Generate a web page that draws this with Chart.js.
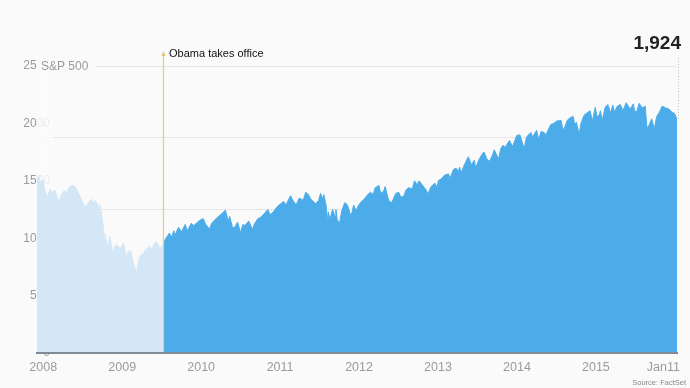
<!DOCTYPE html>
<html>
<head>
<meta charset="utf-8">
<script src="https://cdn.jsdelivr.net/npm/chart.js@4.4.1/dist/chart.umd.min.js"></script>
<style>
html,body{margin:0;padding:0;background:#fafafa;}
#wrap{width:690px;height:388px;position:relative;}
</style>
</head>
<body>
<div id="wrap"><canvas id="c" width="690" height="388"></canvas></div>
<script>
// ---- data (S&P 500 level) ----
const dates = [
"2007-12-03","2007-12-11","2007-12-20","2007-12-31","2008-01-08","2008-01-22","2008-02-01","2008-02-12","2008-02-25","2008-03-10",
"2008-03-17","2008-03-26","2008-04-07","2008-04-17","2008-05-02","2008-05-19","2008-05-30","2008-06-10","2008-06-20","2008-07-02",
"2008-07-15","2008-07-24","2008-08-11","2008-08-20","2008-08-28","2008-09-08","2008-09-15","2008-09-19","2008-09-29","2008-10-06",
"2008-10-10","2008-10-13","2008-10-27","2008-11-04","2008-11-20","2008-11-28","2008-12-08","2008-12-19","2008-12-31","2009-01-06",
"2009-01-20","2009-01-28","2009-02-09","2009-02-23","2009-03-09","2009-03-17","2009-03-26","2009-04-06","2009-04-17","2009-05-08",
"2009-05-14","2009-06-02","2009-06-12","2009-06-23","2009-07-08",
"2009-07-17","2009-07-28","2009-08-07","2009-08-17","2009-08-28","2009-09-02","2009-09-18","2009-10-02","2009-10-19","2009-10-30",
"2009-11-16","2009-11-27","2009-12-10","2009-12-28","2010-01-11","2010-01-22","2010-02-08","2010-02-19","2010-03-05","2010-03-22",
"2010-04-05","2010-04-23","2010-05-06","2010-05-13","2010-05-25","2010-06-04","2010-06-18","2010-07-02","2010-07-13","2010-07-22",
"2010-08-09","2010-08-26","2010-09-03","2010-09-20","2010-10-01","2010-10-18","2010-11-05","2010-11-16","2010-12-01","2010-12-16",
"2011-01-03","2011-01-18","2011-01-28","2011-02-18","2011-03-01","2011-03-16","2011-03-31","2011-04-18","2011-04-29","2011-05-10",
"2011-05-23","2011-06-15","2011-06-28","2011-07-07","2011-07-18","2011-07-22","2011-08-02","2011-08-08","2011-08-12","2011-08-19",
"2011-08-31","2011-09-12","2011-09-16","2011-09-22","2011-10-03","2011-10-13","2011-10-27","2011-11-08","2011-11-25","2011-12-07",
"2011-12-19","2011-12-30","2012-01-13","2012-01-27","2012-02-10","2012-02-24","2012-03-06","2012-03-16","2012-04-02","2012-04-10",
"2012-04-24","2012-05-01","2012-05-18","2012-06-01","2012-06-19","2012-07-03","2012-07-12","2012-07-25","2012-08-06","2012-08-17",
"2012-09-04","2012-09-14","2012-09-26","2012-10-05","2012-10-22","2012-11-07","2012-11-15","2012-11-30","2012-12-18","2012-12-28",
"2013-01-02","2013-01-18","2013-02-01","2013-02-19","2013-02-25","2013-03-14","2013-03-26","2013-04-05","2013-04-11","2013-04-18",
"2013-05-03","2013-05-21","2013-06-05","2013-06-18","2013-06-24","2013-07-08","2013-07-23","2013-08-02","2013-08-15","2013-08-27",
"2013-09-09","2013-09-18","2013-10-08","2013-10-18","2013-10-29","2013-11-07","2013-11-27","2013-12-12","2013-12-31","2014-01-15",
"2014-02-03","2014-02-14","2014-02-28","2014-03-07","2014-03-14","2014-04-02","2014-04-11","2014-04-23","2014-05-07","2014-05-15",
"2014-06-06","2014-06-20","2014-07-03","2014-07-24","2014-07-31","2014-08-07","2014-08-21","2014-09-03","2014-09-18","2014-09-25",
"2014-10-03","2014-10-15","2014-10-24","2014-11-07","2014-11-20","2014-12-05","2014-12-16","2014-12-29","2015-01-06","2015-01-16",
"2015-01-22","2015-01-30","2015-02-13","2015-02-25","2015-03-10","2015-03-20","2015-03-27","2015-04-10","2015-04-24","2015-05-06",
"2015-05-21","2015-06-08","2015-06-23","2015-06-29","2015-07-08","2015-07-20","2015-08-03","2015-08-17","2015-08-25","2015-09-04",
"2015-09-16","2015-09-28","2015-10-09","2015-10-22","2015-11-03","2015-11-20","2015-12-04","2015-12-18","2015-12-31","2016-01-06",
"2016-01-11"
];
const values = [
1520,1545,1490,1505,1420,1360,1430,1400,1415,1330,
1335,1385,1415,1395,1450,1460,1440,1400,1365,1310,
1270,1300,1340,1310,1330,1300,1240,1290,1190,1090,
940,1040,900,1020,860,930,940,915,925,960,
840,880,890,770,700,800,850,855,895,930,
900,965,960,915,925,
985,1015,1045,1010,1065,1025,1095,1055,1120,1065,
1130,1110,1130,1160,1170,1120,1080,1130,1160,1190,
1210,1245,1150,1190,1100,1090,1140,1050,1120,1110,
1150,1075,1120,1170,1180,1210,1250,1205,1230,1270,
1300,1320,1290,1370,1330,1290,1350,1330,1400,1385,
1340,1300,1330,1390,1340,1380,1280,1150,1230,1160,
1250,1190,1250,1160,1130,1240,1310,1290,1190,1290,
1240,1290,1320,1345,1380,1400,1380,1440,1460,1390,
1410,1450,1325,1310,1390,1400,1360,1360,1420,1440,
1430,1500,1465,1500,1460,1420,1385,1450,1480,1440,
1500,1520,1550,1560,1520,1600,1610,1580,1620,1570,
1640,1710,1640,1680,1610,1680,1730,1750,1690,1670,
1720,1770,1690,1780,1810,1790,1850,1800,1895,1900,
1780,1880,1910,1920,1880,1940,1860,1930,1920,1900,
1990,2000,2020,2025,1955,1950,2025,2050,2060,1990,
2010,1905,2000,2070,2090,2110,2020,2140,2060,2070,
2110,2025,2140,2165,2090,2160,2100,2150,2165,2110,
2180,2125,2170,2110,2100,2175,2135,2150,1960,1985,
2040,1950,2060,2100,2150,2135,2125,2100,2085,2060,
2035
];
const splitDate = "2009-07-08";
const xTickYears = [2008, 2009, 2010, 2011, 2012, 2013, 2014, 2015];
const lastTickLabel = "Jan11";
const yLabelTicks = [0, 500, 1000, 1500, 2000, 2500];
const yGridTicks = [625, 1250, 1875, 2500];
const seriesName = "S&P 500";
const eventLabel = "Obama takes office";
const lastValueLabel = "1,924";
const sourceLabel = "Source: FactSet";

// ---- helpers ----
function toYear(s) {
  const [y, m, d] = s.split('-').map(Number);
  const a = Date.UTC(y, 0, 1), b = Date.UTC(y + 1, 0, 1);
  return y + (Date.UTC(y, m - 1, d) - a) / (b - a);
}
const splitIdx = dates.indexOf(splitDate);
const points = dates.map((d, i) => ({ x: toYear(d), y: values[i] }));
const before = points.slice(0, splitIdx + 1);
const after = points.slice(splitIdx);

const FONT = "'Liberation Sans', Arial, Helvetica, sans-serif";
Chart.defaults.font.family = FONT;

const overlay = {
  id: 'overlay',
  beforeDatasetsDraw(chart) {
    const { ctx, chartArea: a, scales: { y } } = chart;
    ctx.save();
    ctx.fillStyle = 'rgba(250,250,250,0.85)';
    const t = y.getPixelForValue(2500) - 9;
    const b = y.getPixelForValue(500) + 9;
    ctx.fillRect(a.left, t, 16, b - t);
    ctx.restore();
  },
  afterDatasetsDraw(chart) {
    const { ctx, chartArea: a, scales: { x, y } } = chart;
    ctx.save();
    // series name next to the top tick
    const yt = y.getPixelForValue(2500);
    ctx.fillStyle = '#fafafa';
    ctx.fillRect(a.left, yt - 8, 58, 16);
    ctx.fillStyle = '#9a9a9a';
    ctx.font = '12px ' + FONT;
    ctx.textAlign = 'left';
    ctx.textBaseline = 'middle';
    ctx.fillText(seriesName, a.left + 4, yt + 1);

    // event line
    const xs = Math.round(x.getPixelForValue(toYear(splitDate))) + 0.5;
    ctx.strokeStyle = '#f3c878';
    ctx.lineWidth = 1.2;
    ctx.beginPath();
    ctx.moveTo(xs, 54);
    ctx.lineTo(xs, a.bottom);
    ctx.stroke();
    ctx.fillStyle = '#efbf68';
    ctx.beginPath();
    ctx.moveTo(xs - 2, 56);
    ctx.lineTo(xs + 2, 56);
    ctx.lineTo(xs, 51);
    ctx.closePath();
    ctx.fill();
    ctx.fillStyle = '#111';
    ctx.font = '11px ' + FONT;
    ctx.textAlign = 'left';
    ctx.fillText(eventLabel, xs + 5.5, 53.5);

    // dotted leader to last value
    const last = points[points.length - 1];
    const xl = Math.round(x.getPixelForValue(last.x)) + 1.5;
    ctx.strokeStyle = '#bdbdbd';
    ctx.lineWidth = 1;
    ctx.setLineDash([1, 2]);
    ctx.beginPath();
    ctx.moveTo(xl, 58);
    ctx.lineTo(xl, y.getPixelForValue(last.y));
    ctx.stroke();
    ctx.setLineDash([]);

    // last value label
    ctx.fillStyle = '#222';
    ctx.font = 'bold 19px ' + FONT;
    ctx.textAlign = 'right';
    ctx.fillText(lastValueLabel, 681, 44);

    // last x tick label
    ctx.fillStyle = '#9b9b9b';
    ctx.font = '12.5px ' + FONT;
    ctx.textAlign = 'right';
    ctx.fillText(lastTickLabel, a.right + 3, a.bottom + 15);

    // source
    ctx.fillStyle = '#8a8a8a';
    ctx.font = '7.5px ' + FONT;
    ctx.textAlign = 'right';
    ctx.fillText(sourceLabel, 686, 383);
    ctx.restore();
  }
};

new Chart(document.getElementById('c'), {
  type: 'line',
  data: {
    datasets: [
      { data: before, yAxisID: 'y', fill: 'origin', backgroundColor: 'rgb(211,231,247)', borderColor: 'rgb(211,231,247)', borderWidth: 1, pointRadius: 0, tension: 0 },
      { data: after, yAxisID: 'y', fill: 'origin', backgroundColor: 'rgb(76,172,233)', borderColor: 'rgb(76,172,233)', borderWidth: 1, pointRadius: 0, tension: 0 }
    ]
  },
  options: {
    responsive: false,
    devicePixelRatio: 1,
    animation: false,
    events: [],
    layout: { padding: { left: 37, right: 13, top: 66, bottom: 0 } },
    plugins: { legend: { display: false }, tooltip: { enabled: false } },
    scales: {
      x: {
        type: 'linear',
        min: toYear(dates[0]),
        max: toYear(dates[dates.length - 1]),
        afterBuildTicks: s => { s.ticks = xTickYears.map(v => ({ value: v })); },
        afterFit: s => { s.height = 35; },
        grid: { display: false, drawTicks: false },
        border: { display: true, color: '#7f8a96', width: 2, z: 1 },
        ticks: { color: '#9b9b9b', font: { size: 12.5 }, padding: 7, maxRotation: 0, autoSkip: false, callback: v => String(v) }
      },
      yGrid: {
        type: 'linear', position: 'left', min: 0, max: 2500,
        afterBuildTicks: s => { s.ticks = yGridTicks.map(v => ({ value: v })); },
        afterFit: s => { s.width = 0; },
        grid: { color: '#e6e6e6', lineWidth: 1, drawTicks: false },
        border: { display: false },
        ticks: { display: false }
      },
      y: {
        type: 'linear', position: 'left', min: 0, max: 2500,
        afterBuildTicks: s => { s.ticks = yLabelTicks.map(v => ({ value: v })); },
        afterFit: s => { s.width = 0; },
        grid: { display: false, drawTicks: false },
        border: { display: false },
        ticks: { mirror: true, crossAlign: 'far', padding: -13.7, color: '#9a9a9a', font: { size: 12 }, callback: v => String(v) }
      }
    }
  },
  plugins: [overlay]
});
</script>
</body>
</html>
